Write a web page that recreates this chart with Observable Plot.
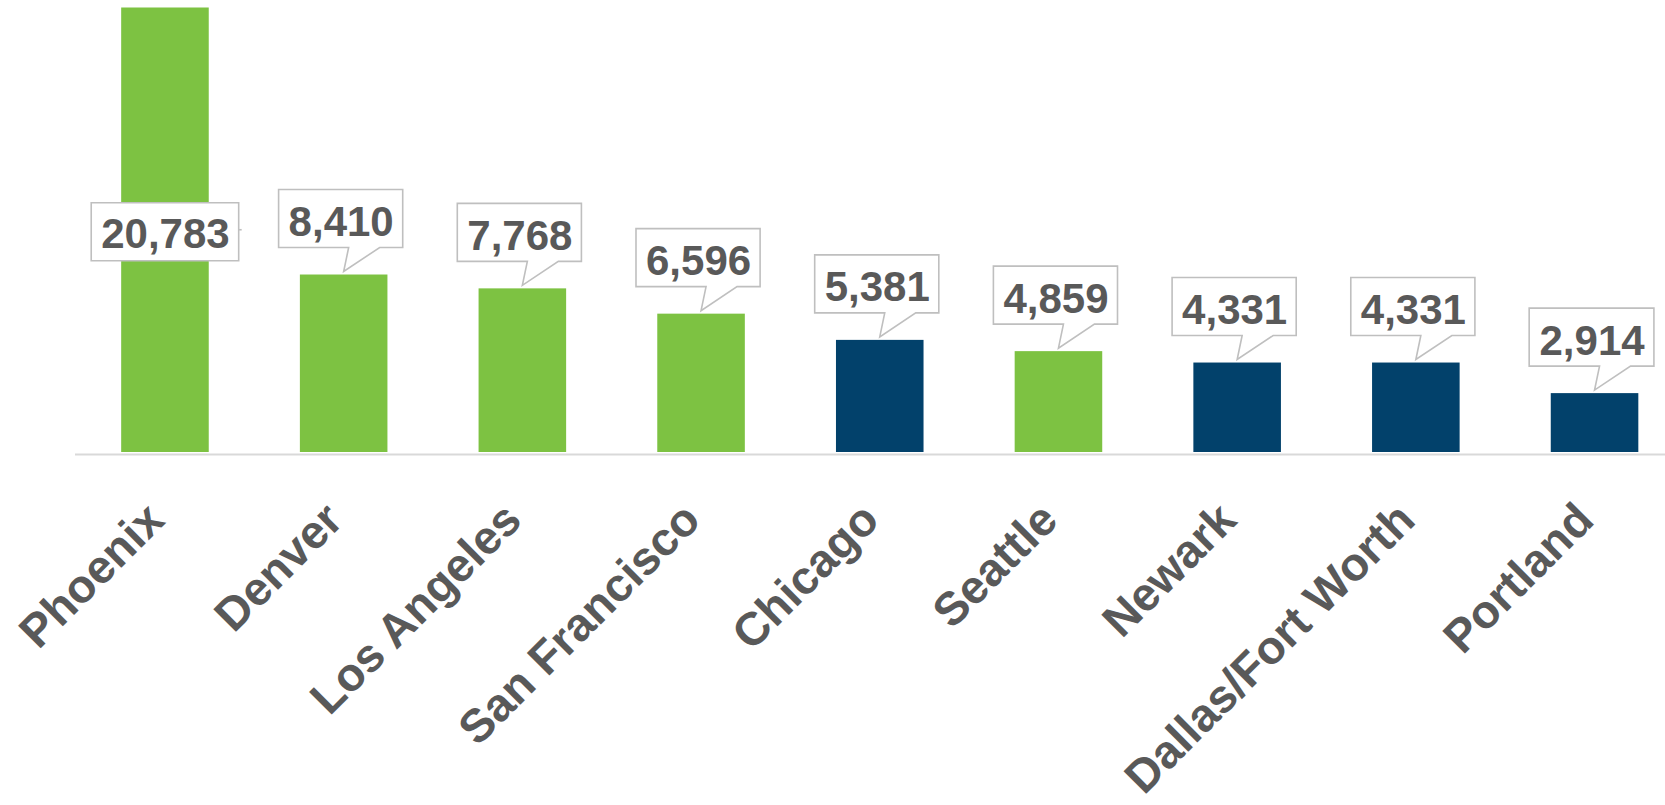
<!DOCTYPE html>
<html>
<head>
<meta charset="utf-8">
<script src="https://cdn.jsdelivr.net/npm/d3@7"></script>
<script src="https://cdn.jsdelivr.net/npm/@observablehq/plot@0.6"></script>
<style>
  html, body { margin: 0; padding: 0; background: #fff; }
  svg { display: block; }
</style>
</head>
<body>
<div id="chart"></div>
<script>
// ---- data ----
const cities = ["Phoenix", "Denver", "Los Angeles", "San Francisco", "Chicago", "Seattle", "Newark", "Dallas/Fort Worth", "Portland"];
const values = [20783, 8410, 7768, 6596, 5381, 4859, 4331, 4331, 2914];
const groups = ["Group A", "Group A", "Group A", "Group A", "Group B", "Group A", "Group B", "Group B", "Group B"];

const data = cities.map((city, i) => ({city, value: values[i], group: groups[i]}));

// ---- layout / style ----
const W = 1665, H = 805;
const yMax = d3.max(values);
const isInside = d => d.value > 0.8 * yMax; // callout placed at the middle of the bar
const font = `"Liberation Sans", Arial, Helvetica, sans-serif`;
const textGray = "#595959";
const fmt = d3.format(",");

const outside = data.filter(d => !isInside(d));
const inside = data.filter(isInside);

const chart = Plot.plot({
  width: W,
  height: H,
  marginTop: 7.5,
  marginBottom: 349,
  marginLeft: 75,
  marginRight: 0,
  style: {fontFamily: font, background: "#fff", overflow: "hidden"},
  x: {type: "band", domain: cities, range: [76.5, 1683], paddingInner: 0.51, paddingOuter: 0.25, round: false, axis: null},
  y: {domain: [0, yMax], axis: null},
  color: {domain: ["Group A", "Group B"], range: ["#7DC242", "#02416B"]},
  marks: [
    Plot.barY(data, {x: "city", y: "value", fill: "group", insetBottom: 4}),
    Plot.ruleY([0], {stroke: "#D9D9D9", strokeWidth: 2, dy: -2}),
    Plot.text(outside, {
      x: "city", y: "value", text: d => fmt(d.value),
      dx: -3, dy: -52.4, lineAnchor: "middle",
      fontSize: 42, fontWeight: "bold", fill: textGray
    }),
    Plot.text(inside, {
      x: "city", y: d => d.value / 2, text: d => fmt(d.value),
      dy: 2, lineAnchor: "middle",
      fontSize: 42, fontWeight: "bold", fill: textGray
    }),
    Plot.text(data, {
      x: "city", frameAnchor: "bottom", text: "city",
      rotate: -45, textAnchor: "end", lineAnchor: "bottom",
      dx: 1, dy: 66,
      fontSize: 46.5, fontWeight: "bold", fill: textGray
    })
  ]
});

document.getElementById("chart").append(chart);

// ---- callout boxes, positioned with the plot's own scales ----
const sx = chart.scale("x");
const sy = chart.scale("y");
let xApply, yApply;
if (sx.apply) { xApply = sx.apply; } else {
  const b = d3.scaleBand().domain(sx.domain).range(sx.range).paddingInner(sx.paddingInner).paddingOuter(sx.paddingOuter).align(sx.align ?? 0.5);
  xApply = v => b(v);
}
if (sy.apply) { yApply = sy.apply; } else {
  const l = d3.scaleLinear().domain(sy.domain).range(sy.range);
  yApply = v => l(v);
}
const bw = sx.bandwidth;
const cx = d => xApply(d.city) + bw / 2;

const textGroups = chart.querySelectorAll('g[aria-label="text"]');
const boxH = 58, padX = 9.5, gap = 27;

const layer = d3.create("svg:g").attr("aria-label", "callouts")
  .attr("fill", "#fff").attr("stroke", "#BFBFBF").attr("stroke-width", 1.6);

// outside-end callouts with pointer
const outTexts = textGroups[0].querySelectorAll("text");
outside.forEach((d, i) => {
  const r = outTexts[i].getBoundingClientRect();
  const w = r.width + 2 * padX;
  const c = cx(d);
  const top = yApply(d.value);
  const bx = c - 3;
  const L = bx - w / 2, R = bx + w / 2;
  const B = top - gap, T = B - boxH;
  const p = `M${L},${T}H${R}V${B}H${c + 36}L${c},${top - 3}L${c + 5},${B}H${L}Z`;
  layer.append("path").attr("d", p);
});

// centered callout (inside the tall bar)
const inTexts = textGroups[1].querySelectorAll("text");
inside.forEach((d, i) => {
  const r = inTexts[i].getBoundingClientRect();
  const w = r.width + 2 * padX;
  const c = cx(d);
  const m = yApply(d.value / 2);
  const L = c - w / 2, R = c + w / 2;
  layer.append("path").attr("d", `M${L},${m - boxH / 2}H${R}V${m + boxH / 2}H${L}Z`);
  layer.append("path").attr("d", `M${R},${m - 2}h3`).attr("fill", "none");
});

chart.insertBefore(layer.node(), textGroups[0]);
</script>
</body>
</html>
